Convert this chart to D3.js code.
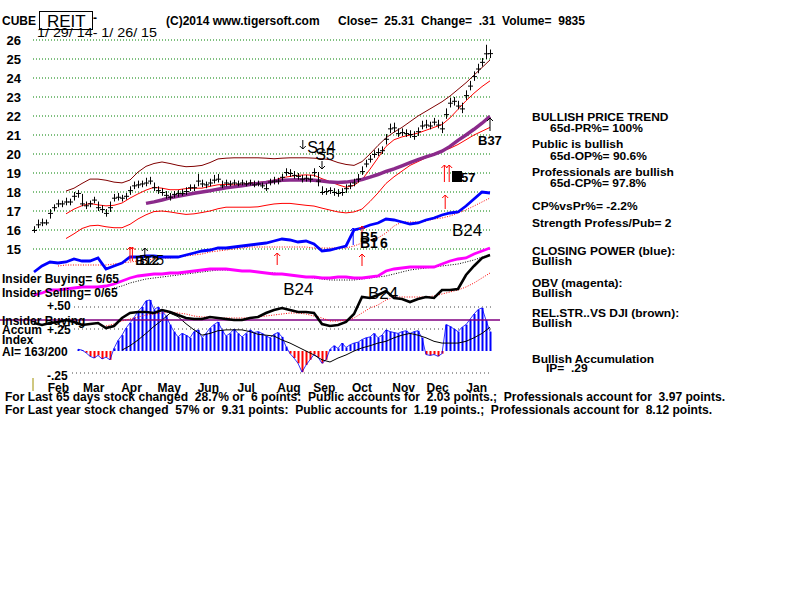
<!DOCTYPE html>
<html><head><meta charset="utf-8">
<script src="https://cdn.jsdelivr.net/npm/d3@7"></script>
<style>
body{margin:0;background:#fff;}
svg{display:block;}
text{font-family:"Liberation Sans",Arial,sans-serif;white-space:pre;}
</style></head><body>
<div id="chart"></div>
<script>
// ---------- DATA ----------
const ticker = "CUBE";
const group = "REIT";
const dateRange = "1/ 29/ 14- 1/ 26/ 15";
const priceTicks = [15,16,17,18,19,20,21,22,23,24,25,26];
const monthLabels = ["Feb","Mar","Apr","May","Jun","Jul","Aug","Sep","Oct","Nov","Dec","Jan"];
const monthDates = ["2014-02-17","2014-03-17","2014-04-16","2014-05-16","2014-06-16","2014-07-16","2014-08-19","2014-09-16","2014-10-16","2014-11-18","2014-12-15","2015-01-15"];
// daily bars (sampled every other session)
const closes = [16.0,16.3,16.4,16.4,16.9,17.2,17.4,17.4,17.5,17.5,
 17.8,17.95,17.4,17.3,17.4,17.6,17.2,17.1,16.9,17.2,
 17.7,17.75,17.7,17.8,18.1,18.35,18.4,18.45,18.5,18.6,
 18.25,18.1,18.0,17.85,17.75,17.9,17.95,17.95,18.05,18.25,
 18.25,18.6,18.45,18.4,18.5,18.65,18.7,18.35,18.5,18.45,
 18.5,18.45,18.5,18.45,18.5,18.4,18.45,18.35,18.2,18.55,
 18.6,18.6,18.8,19.05,19.0,18.9,18.85,18.7,18.75,18.7,
 19.05,18.6,18.0,18.05,18.1,18.0,17.95,18.0,18.2,18.35,
 18.5,18.7,19.1,19.5,19.75,20.0,20.1,20.2,20.8,21.35,
 21.4,21.1,21.15,21.1,21.05,20.95,21.2,21.5,21.55,21.5,
 21.7,21.55,21.35,22.1,22.7,22.8,22.55,22.4,23.1,23.6,
 24.1,24.5,24.85,25.3,25.31];
const highs = [16.2,16.55,16.6,16.55,17.1,17.35,17.6,17.55,17.7,17.65,
 18.0,18.1,17.9,17.5,17.55,17.75,17.5,17.3,17.1,17.5,
 17.9,17.95,17.85,17.95,18.3,18.55,18.6,18.6,18.75,18.8,
 18.5,18.3,18.2,18.05,17.95,18.05,18.1,18.15,18.25,18.4,
 18.4,18.95,18.65,18.55,18.7,18.9,18.95,18.6,18.65,18.6,
 18.65,18.6,18.65,18.6,18.65,18.6,18.6,18.5,18.45,18.7,
 18.8,18.75,18.95,19.25,19.2,19.1,19.0,18.9,18.9,18.9,
 19.25,19.05,18.3,18.2,18.25,18.2,18.15,18.2,18.4,18.5,
 18.7,18.95,19.35,19.7,19.95,20.2,20.3,20.4,21.05,21.6,
 21.65,21.35,21.35,21.3,21.25,21.2,21.4,21.75,21.8,21.7,
 21.9,21.8,21.7,22.4,22.95,23.0,22.8,22.7,23.35,23.85,
 24.35,24.75,25.05,25.75,25.5];
const lows = [15.85,16.1,16.2,16.25,16.6,17.0,17.2,17.2,17.3,17.3,
 17.55,17.7,17.25,17.1,17.2,17.4,17.0,16.9,16.7,16.95,
 17.5,17.55,17.5,17.6,17.85,18.15,18.2,18.25,18.3,18.4,
 18.05,17.9,17.8,17.65,17.55,17.7,17.75,17.8,17.85,18.05,
 18.05,18.3,18.25,18.2,18.3,18.45,18.5,18.2,18.3,18.3,
 18.35,18.3,18.35,18.3,18.35,18.25,18.3,18.2,18.05,18.35,
 18.4,18.4,18.6,18.85,18.8,18.7,18.65,18.5,18.55,18.5,
 18.8,18.3,17.85,17.85,17.9,17.8,17.75,17.8,17.95,18.15,
 18.3,18.5,18.9,19.3,19.55,19.8,19.9,20.0,20.5,21.1,
 21.15,20.9,20.95,20.9,20.85,20.75,20.95,21.3,21.35,21.3,
 21.5,21.35,21.1,21.85,22.45,22.55,22.35,22.15,22.85,23.35,
 23.85,24.25,24.6,25.0,25.05];
// bands & averages (every 2nd bar)
const upperBand = [null,null,null,null,18.05,18.2,18.45,18.68,18.68,18.62,18.52,18.48,18.63,19.05,
 19.35,19.5,19.58,19.5,19.4,19.33,19.35,19.4,19.55,19.74,
 19.78,19.8,19.8,19.8,19.8,19.78,19.75,19.78,19.8,19.8,
 19.8,19.78,19.75,19.7,19.55,19.45,19.4,19.6,20.0,20.45,
 20.85,21.15,21.4,21.7,22.0,22.25,22.5,22.75,23.05,23.4,
 23.75,24.15,24.55,24.95];
const midBand = [null,null,null,null,16.85,17.1,17.28,17.4,17.32,17.27,17.3,17.42,17.68,17.9,
 18.1,18.25,18.2,18.12,18.12,18.18,18.2,18.2,18.3,18.38,
 18.4,18.37,18.4,18.47,18.5,18.55,18.62,18.75,18.82,18.88,
 18.9,18.88,18.7,18.55,18.38,18.25,18.35,18.65,19.2,19.8,
 20.4,20.75,20.9,21.0,21.1,21.25,21.4,21.55,21.9,22.35,
 22.8,23.2,23.55,23.85];
const lowerBand = [null,null,null,null,15.55,15.8,16.08,16.22,16.25,16.17,16.12,16.12,16.3,16.58,
 16.8,16.97,17.0,16.95,16.88,16.82,16.85,16.92,17.0,17.12,
 17.2,17.2,17.2,17.2,17.22,17.3,17.37,17.4,17.4,17.35,
 17.3,17.26,17.15,17.05,16.95,16.9,16.95,17.1,17.5,17.95,
 18.45,18.8,19.1,19.4,19.6,19.8,19.95,20.15,20.3,20.5,
 20.75,21.0,21.2,21.4];
const ma65 = [null,null,null,null,null,null,null,null,null,null,null,null,null,null,
 17.4,17.48,17.58,17.7,17.78,17.86,17.93,18.0,18.07,18.15,
 18.22,18.27,18.33,18.4,18.45,18.5,18.57,18.62,18.63,18.64,
 18.63,18.62,18.58,18.52,18.5,18.52,18.58,18.66,18.78,18.92,
 19.08,19.22,19.38,19.55,19.7,19.85,19.98,20.15,20.4,20.72,
 21.0,21.3,21.62,21.98];
// Closing Power (blue) and its MA
const closingPower = [18,24,28,27,28,31,29,29,32,21, 24,27,33,33,34,34,33,33,33,35,
 37,39,40,42,42,43,44,45,46,47, 49,51,50,48,49,46,39,40,42,44,
 60,62,65,67,71,70,68,66,67,70, 72,75,77,78,84,91,98,97];
const closingPowerMA = [null,null,null,24,25,25,25,25,25,25, 26,27,28,29,30,31,32,32,33,34,
 35,36,38,39,40,41,42,43,43,43, 43,43,43,43,43,42,42,42,42,42,
 44,47,50,52,57,64,68,68,68,69, 71,72,74,77,80,84,88,92];
// OBV (magenta) and its MA
const obv = [5,7,10,10,11,12,13,13,13,14, 16,19,22,24,25,26,26,27,27,28,
 29,30,31,31,31,30,29,29,28,27, 26,26,25,24,23,23,22,22,23,23,
 22,22,23,24,29,31,32,33,33,33, 33,36,39,41,42,46,49,52];
const obvMA = [null,null,null,null,null,null,null,null,null,null, 12,14,17,19,21,22,23,24,25,26,
 27,28,29,30,30,30,29,29,28,27, 27,26,25,24,23,22,21,20,20,20,
 20,21,22,23,24,26,28,30,31,32, 33,34,35,36,38,40,43,45];
// Relative strength vs DJI (black) and its MA
const relStr = [17,15,17,18,20,18,15,16,17,12, 14,22,27,28,28,27,30,28,25,22,
 21,21,23,22,21,20,20,22,23,27, 30,32,30,28,28,27,16,14,15,18,
 26,43,42,45,49,42,41,38,41,43, 42,50,50,51,65,74,82,85];
const relStrMA = [null,null,null,null,null,null,null,null,null,14, 16,19,21,23,25,26,27,28,27,26,
 24,23,23,22,22,22,22,22,23,24, 25,26,27,27,26,24,22,19,19,20,
 22,27,32,35,40,43,43,43,43,43, 44,46,48,50,53,57,62,67];
const relStrRef = 20;
// Accumulation Index (one value per bar, starts at bar 11)
const accum = [null,null,null,null,null,null,null,null,null,null,null,
 0.02,0.01,-0.02,-0.06,-0.08,-0.05,-0.09,-0.07,-0.1,0.03,
 0.12,0.18,0.26,0.32,0.38,0.45,0.5,0.57,0.58,0.47,
 0.5,0.45,0.4,0.3,0.22,0.16,0.2,0.18,0.15,0.22,
 0.24,0.15,0.2,0.26,0.3,0.33,0.24,0.17,0.2,0.25,
 0.2,0.16,0.2,0.24,0.21,0.22,0.2,0.17,0.15,0.19,
 0.21,0.16,0.05,-0.03,-0.08,-0.14,-0.24,-0.16,-0.1,-0.04,
 -0.07,-0.14,-0.1,0.02,0.06,0.03,0.09,0.04,0.07,0.09,
 0.1,0.13,0.15,0.16,0.2,0.15,0.18,0.24,0.22,0.21,
 0.2,0.22,0.23,0.2,0.22,0.23,0.15,-0.04,-0.05,-0.04,
 -0.06,-0.03,0.3,0.28,0.25,0.22,0.27,0.3,0.36,0.42,
 0.47,0.49,0.35,0.22];
// AI moving average (every 2nd bar)
const accumMA = [null,null,null,null,null,null,null,null,null,null,null,
 0.01,0.06,0.125,0.2,0.28,0.35,0.43,0.39,0.31,0.24,0.18,0.2,0.23,0.24,0.24,0.24,0.22,0.19,0.18,0.17,
 0.125,0.09,0.045,0,-0.045,-0.1,-0.125,-0.08,-0.045,0,0.035,0.06,0.09,0.11,0.15,0.18,0.2,0.18,0.15,0.11,
 0.09,0.09,0.09,0.11,0.15,0.2,0.27];
const accumTicks = [0.5,0.25,-0.25];

const rightPanel = [
 ["BULLISH PRICE TREND",0,121],["65d-PR%= 100%",18,132],
 ["Public is bullish",0,148],["65d-OP%= 90.6%",18,160],
 ["Professionals are bullish",0,176],["65d-CP%= 97.8%",18,187],
 ["CP%vsPr%= -2.2%",0,210],["Strength Profess/Pub= 2",0,227],
 ["CLOSING POWER (blue):",0,255],["Bullish",0,265],
 ["OBV (magenta):",0,287],["Bullish",0,297],
 ["REL.STR..VS DJI (brown):",0,317],["Bullish",0,327],
 ["Bullish Accumulation",0,363],["IP=  .29",14,372]];
const footer = [
 "For Last 65 days stock changed  28.7% or  6 points:  Public accounts for  2.03 points.;  Professionals account for  3.97 points.",
 "For Last year stock changed  57% or  9.31 points:  Public accounts for  1.19 points.;  Professionals account for  8.12 points."];

// ---------- DRAW ----------
const W=800,H=600;
const svg=d3.select("#chart").append("svg").attr("width",W).attr("height",H);
svg.append("rect").attr("width",W).attr("height",H).attr("fill","#fff");

const nBars=closes.length;
const x=d3.scaleLinear().domain([0,nBars-1]).range([34,490]);
const xi=k=>x(2*k);
const xTime=d3.scaleTime().domain([new Date("2014-01-29"),new Date("2015-01-26")]).range([34,490]);
const yP=d3.scaleLinear().domain([15,26]).range([249,40]);
const yCP=d3.scaleLinear().domain([0,100]).range([290,190]);
const yOBV=d3.scaleLinear().domain([0,100]).range([300,200]);
const yRS=d3.scaleLinear().domain([0,100]).range([340,240]);
const yAI=d3.scaleLinear().domain([-0.25,0.5]).range([373,307]);

// price gridlines
svg.append("g").selectAll("line").data(priceTicks).join("line")
 .attr("x1",33).attr("x2",492).attr("y1",d=>yP(d)).attr("y2",d=>yP(d))
 .attr("stroke","#008000").attr("stroke-dasharray","1,2");
// AI dotted lines
svg.append("g").selectAll("line").data(accumTicks).join("line")
 .attr("x1",d=>d<0?72:74).attr("x2",492).attr("y1",d=>yAI(d)).attr("y2",d=>yAI(d))
 .attr("stroke","#444").attr("stroke-dasharray","1,3");

// price axis
const ax=svg.append("g").attr("transform","translate(21,0)")
 .call(d3.axisLeft(yP).tickValues(priceTicks).tickSize(0).tickPadding(0).tickFormat(d3.format("d")));
ax.select(".domain").remove();
ax.selectAll("text").attr("font-size",13).attr("font-weight","bold").attr("fill","#000")
 .style("font-family","Liberation Sans, Arial");

// month axis
const mx=svg.append("g").attr("transform","translate(0,383)")
 .call(d3.axisBottom(xTime).tickValues(monthDates.map(d=>new Date(d))).tickSize(0).tickPadding(0)
 .tickFormat((d,i)=>monthLabels[i]));
mx.select(".domain").remove();
mx.selectAll("text").attr("font-size",12).attr("font-weight","bold").attr("fill","#000").attr("dy","0.71em")
 .style("font-family","Liberation Sans, Arial");
svg.append("line").attr("x1",33).attr("x2",33).attr("y1",378).attr("y2",391).attr("stroke","#a09000").attr("stroke-width",1);

const lineGen=(ys)=>d3.line().defined(d=>d!=null).x((d,i)=>xi(i)).y(d=>ys(d));
const barLineGen=(ys)=>d3.line().defined(d=>d!=null).x((d,i)=>x(i)).y(d=>ys(d));

// AI histogram
svg.append("g").selectAll("rect").data(accum.map((v,i)=>({v,i})).filter(d=>d.v!=null)).join("rect")
 .attr("x",d=>x(d.i)-0.5).attr("width",2)
 .attr("y",d=>Math.min(yAI(d.v),yAI(0))).attr("height",d=>Math.abs(yAI(d.v)-yAI(0)))
 .attr("fill",d=>d.v>=0?"#0000ff":"#ff0000");
svg.append("path").datum(accum).attr("d",barLineGen(yAI)).attr("fill","none").attr("stroke","#0000ff").attr("stroke-width",0.8);
svg.append("path").datum(accumMA).attr("d",lineGen(yAI)).attr("fill","none").attr("stroke","#000").attr("stroke-width",1);

// RS reference line
svg.append("line").attr("x1",0).attr("x2",500).attr("y1",yRS(relStrRef)).attr("y2",yRS(relStrRef))
 .attr("stroke","#800080").attr("stroke-width",1.5);

// bands
svg.append("path").datum(upperBand).attr("d",lineGen(yP)).attr("fill","none").attr("stroke","#800000").attr("stroke-width",1);
svg.append("path").datum(lowerBand).attr("d",lineGen(yP)).attr("fill","none").attr("stroke","#ff0000").attr("stroke-width",1);
svg.append("path").datum(midBand).attr("d",lineGen(yP)).attr("fill","none").attr("stroke","#ff0000").attr("stroke-width",1);

// indicator MAs (dotted)
svg.append("path").datum(closingPowerMA).attr("d",lineGen(yCP)).attr("fill","none").attr("stroke","#ff0000").attr("stroke-dasharray","1,1.5");
svg.append("path").datum(obvMA).attr("d",lineGen(yOBV)).attr("fill","none").attr("stroke","#000").attr("stroke-dasharray","1,1.5");
svg.append("path").datum(relStrMA).attr("d",lineGen(yRS)).attr("fill","none").attr("stroke","#ff0000").attr("stroke-dasharray","1,1.5");

// indicator lines
svg.append("path").datum(obv).attr("d",lineGen(yOBV)).attr("fill","none").attr("stroke","#ff00ff").attr("stroke-width",2.8);
svg.append("path").datum(closingPower).attr("d",lineGen(yCP)).attr("fill","none").attr("stroke","#0000ff").attr("stroke-width",2.8);
svg.append("path").datum(relStr).attr("d",lineGen(yRS)).attr("fill","none").attr("stroke","#000").attr("stroke-width",2.6);

// 65d MA purple
svg.append("path").datum(ma65).attr("d",lineGen(yP)).attr("fill","none").attr("stroke","#8b2a8b").attr("stroke-width",3.5);

// price bars
const bars=svg.append("g");
closes.forEach((c,i)=>{
  bars.append("line").attr("x1",x(i)+0.5).attr("x2",x(i)+0.5).attr("y1",yP(highs[i])).attr("y2",yP(lows[i])).attr("stroke","#000");
  bars.append("line").attr("x1",x(i)).attr("x2",x(i)+3).attr("y1",yP(c)+0.5).attr("y2",yP(c)+0.5).attr("stroke","#000");
  bars.append("line").attr("x1",x(i)-2).attr("x2",x(i)).attr("y1",yP(c)+0.5).attr("y2",yP(c)+0.5).attr("stroke","#000");
});

// ---------- signals ----------
function arrow(px,yTail,yHead,color,w){
  const g=svg.append("g").attr("stroke",color).attr("fill","none").attr("stroke-width",w||1);
  const dir=yHead<yTail?1:-1;
  g.append("line").attr("x1",px).attr("x2",px).attr("y1",yTail).attr("y2",yHead);
  g.append("path").attr("d",`M${px-3},${yHead+3*dir}L${px},${yHead}L${px+3},${yHead+3*dir}`);
}
function label(t,px,py,size,weight,color,parent){
  return (parent||svg).append("text").attr("x",px).attr("y",py).attr("font-size",size).attr("font-weight",weight||"normal")
   .attr("fill",color||"#000").text(t);
}
// B37
arrow(x(114),131,118,"#000");
label("B37",x(111),145,13,"bold");
// S14 / S5
arrow(x(67.2),140,149,"#000");
label("S14",x(68.3),153,16);
label("S5",x(70.3),160,16);
arrow(x(72),161,169,"#000");
// B57
arrow(x(102.6),182,165,"#ff0000");
arrow(x(103.8),182,165,"#ff0000");
svg.append("rect").attr("x",x(104.5)).attr("y",171).attr("width",10).attr("height",11).attr("fill","#000");
label("57",x(104.5)+9,182,13,"bold");
// red arrow on CP
arrow(x(102.8),209,195,"#ff0000");
label("B24",x(104.5),236,17);
// B5 / B16
arrow(x(79.8),245,228,"#0000ff");
arrow(x(82),238,226,"#ff0000");
label("B5",x(81.5),242,14,"bold");
label("B1",x(81.5),248,14,"bold");
label("6",x(86.5),248,14,"bold");
// red arrows between CP and OBV
arrow(x(60.8),265,253,"#ff0000");
arrow(x(82),266,254,"#ff0000");
label("B24",x(62.3),295,17);
label("B24",x(83.5),299,17);
// B12 / B25
arrow(x(24),261,247,"#ff0000");
arrow(x(24.6),261,247,"#ff0000");
arrow(x(27.7),258,248,"#000");
label("B12",x(25.3),265,13,"bold");
label("B25",x(26.3),265,14);

// ---------- texts ----------
label(ticker,2,25,12,"bold");
svg.append("rect").attr("x",39.5).attr("y",11.5).attr("width",53).attr("height",18).attr("fill","#fff").attr("stroke","#000");
label(group,47,27,17);
label("-",93,22,12,"bold");
label(dateRange,37,37,13).attr("textLength",120).attr("lengthAdjust","spacingAndGlyphs");
label("(C)2014 www.tigersoft.com",166,25,12,"bold");
label("Close=  25.31  Change=  .31  Volume=  9835",338,25,12,"bold");

const rp=svg.append("g").attr("transform","translate(532,0) scale(1.09,1)");
rightPanel.forEach(r=>label(r[0],r[1]/1.09,r[2],11,"bold","#000",rp));

label("Insider Buying= 6/65",2,283,12,"bold");
label("Insider Selling= 0/65",2,297,12,"bold");
label("+.50",47,310,12,"bold");
label("Insider Buying",2,325,12,"bold");
label("Accum",2,334,12,"bold");
label("+.25",47,334,12,"bold");
label("Index",2,344,12,"bold");
label("AI= 163/200",2,356,12,"bold");
label("-.25",47,380,12,"bold");

footer.forEach((t,i)=>{
  svg.append("text").attr("x",5).attr("y",401+i*12.5).attr("font-size",12).attr("font-weight","bold")
   .attr("textLength",i===0?720:707).attr("lengthAdjust","spacingAndGlyphs").text(t);
});
</script>
</body></html>
